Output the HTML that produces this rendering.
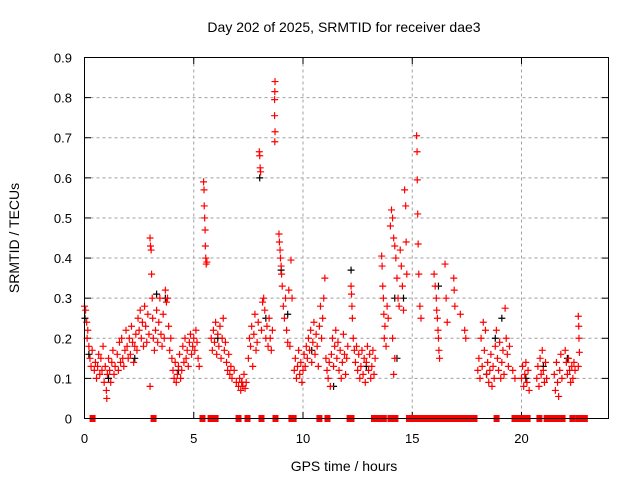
<!DOCTYPE html>
<html><head><meta charset="utf-8"><style>
html,body{margin:0;padding:0;background:#fff}
svg{display:block;font-family:"Liberation Sans",sans-serif}
</style></head><body>
<svg id="chart" width="640" height="480" viewBox="0 0 640 480" xmlns="http://www.w3.org/2000/svg">
<text x="344" y="32" font-size="14" text-anchor="middle" fill="#000">Day 202 of 2025, SRMTID for receiver dae3</text>
<text transform="translate(19,238) rotate(-90)" font-size="14" text-anchor="middle" fill="#000">SRMTID / TECUs</text>
<text x="344" y="471" font-size="14" text-anchor="middle" fill="#000">GPS time / hours</text>
<g id="grid"></g>
<g id="ticks"></g>
<g id="black"></g>
<g id="red"></g>
<rect x="84.5" y="57.5" width="524" height="361" fill="none" stroke="#000" stroke-width="1"/>
</svg>
<script>
const xTicks = [0,5,10,15,20];
const yTicks = [0,0.1,0.2,0.3,0.4,0.5,0.6,0.7,0.8,0.9];
const yTickLabels = ["0","0.1","0.2","0.3","0.4","0.5","0.6","0.7","0.8","0.9"];
const zeroTimes = [0.37,3.16,5.4,5.77,5.86,6.0,7.05,7.46,8.1,8.74,9.47,9.57,10.75,11.12,12.13,12.22,13.25,13.4,13.55,13.7,14.0,14.23,14.85,15.0,15.15,15.25,15.45,15.6,15.75,15.9,16.05,16.2,16.4,16.55,16.7,16.85,17.0,17.15,17.3,17.45,17.6,17.75,17.85,18.86,19.68,19.9,20.05,20.2,20.28,20.82,21.15,21.3,21.45,21.6,21.75,21.88,22.33,22.6,22.75,22.9];
const redSeries = [
[0.0,0.28],[0.05,0.27],[0.1,0.24],[0.12,0.2],[0.15,0.22],[0.2,0.18],[0.25,0.15],[0.3,0.13],[0.35,0.17],[0.45,0.12],
[0.5,0.14],[0.55,0.1],[0.6,0.13],[0.65,0.16],[0.7,0.11],[0.75,0.15],[0.8,0.12],[0.85,0.18],[0.9,0.09],[0.95,0.13],
[1.0,0.07],[1.02,0.05],[1.05,0.11],[1.1,0.15],[1.15,0.12],[1.2,0.09],[1.25,0.14],[1.3,0.17],[1.35,0.11],[1.4,0.13],
[1.5,0.16],[1.55,0.12],[1.6,0.19],[1.65,0.14],[1.7,0.2],[1.75,0.15],[1.8,0.13],[1.85,0.17],[1.9,0.22],[1.95,0.18],
[2.0,0.15],[2.05,0.2],[2.1,0.16],[2.15,0.23],[2.2,0.19],[2.25,0.14],[2.3,0.18],[2.35,0.21],[2.4,0.17],[2.45,0.25],
[2.5,0.22],[2.55,0.27],[2.6,0.2],[2.65,0.24],[2.7,0.18],[2.75,0.28],[2.8,0.23],[2.85,0.19],[2.9,0.26],[2.95,0.21],
[3.0,0.45],[3.02,0.43],[3.05,0.42],[3.07,0.36],[3.1,0.3],[3.12,0.25],[3.0,0.08],[3.15,0.2],[3.2,0.17],[3.25,0.22],
[3.3,0.27],[3.35,0.19],[3.4,0.24],[3.45,0.3],[3.5,0.21],[3.55,0.18],[3.6,0.26],[3.65,0.2],[3.7,0.32],[3.75,0.29],
[3.8,0.3],[3.85,0.23],[3.9,0.17],[3.95,0.2],[4.0,0.15],[4.05,0.12],[4.1,0.1],[4.15,0.14],[4.2,0.09],[4.25,0.11],
[4.3,0.13],[4.35,0.16],[4.4,0.1],[4.45,0.12],[4.5,0.18],[4.55,0.14],[4.6,0.2],[4.65,0.15],[4.7,0.17],[4.75,0.13],
[4.8,0.19],[4.85,0.21],[4.9,0.16],[4.95,0.18],[5.0,0.2],[5.05,0.17],[5.1,0.22],[5.15,0.19],[5.2,0.15],[5.25,0.13],
[5.45,0.59],[5.47,0.57],[5.48,0.53],[5.5,0.5],[5.52,0.47],[5.53,0.43],[5.55,0.4],[5.57,0.385],[5.6,0.39],
[5.8,0.2],[5.85,0.17],[5.9,0.22],[5.95,0.19],[6.0,0.24],[6.05,0.16],[6.1,0.21],[6.15,0.18],[6.2,0.23],[6.25,0.15],
[6.3,0.2],[6.35,0.25],[6.4,0.17],[6.45,0.19],[6.5,0.14],[6.55,0.12],[6.6,0.16],[6.65,0.11],[6.7,0.13],[6.75,0.1],
[6.85,0.12],[6.95,0.09],[7.05,0.08],[7.1,0.1],[7.15,0.07],[7.2,0.09],[7.25,0.08],[7.3,0.11],[7.35,0.075],[7.4,0.09],
[7.5,0.15],[7.55,0.2],[7.6,0.18],[7.65,0.23],[7.7,0.13],[7.75,0.21],[7.8,0.26],[7.85,0.17],[7.9,0.19],[7.95,0.24],
[8.0,0.665],[8.02,0.655],[8.04,0.625],[8.06,0.615],[8.1,0.22],[8.15,0.29],[8.2,0.3],[8.25,0.27],[8.3,0.2],[8.35,0.23],
[8.4,0.18],[8.45,0.25],[8.5,0.2],[8.55,0.17],[8.6,0.22],[8.72,0.84],[8.71,0.815],[8.7,0.795],[8.7,0.755],[8.72,0.715],[8.71,0.69],
[8.9,0.46],[8.92,0.44],[8.95,0.42],[8.97,0.4],[9.0,0.38],[9.02,0.36],[9.05,0.33],[9.1,0.28],[9.15,0.25],[9.2,0.3],
[9.25,0.22],[9.3,0.19],[9.35,0.32],[9.4,0.18],[9.45,0.395],[9.5,0.3],
[9.6,0.12],[9.65,0.15],[9.7,0.1],[9.75,0.13],[9.8,0.17],[9.85,0.11],[9.9,0.14],[9.95,0.09],[10.0,0.12],[10.05,0.16],
[10.1,0.13],[10.15,0.18],[10.2,0.15],[10.25,0.2],[10.3,0.17],[10.35,0.22],[10.4,0.14],[10.45,0.19],[10.5,0.24],[10.55,0.16],
[10.6,0.21],[10.65,0.18],[10.7,0.13],[10.75,0.23],[10.8,0.28],[10.85,0.2],[10.9,0.25],[10.95,0.3],[11.0,0.35],[11.05,0.15],
[11.1,0.12],[11.15,0.1],[11.2,0.14],[11.25,0.08],[11.3,0.16],[11.35,0.2],[11.4,0.13],[11.45,0.18],[11.5,0.22],[11.55,0.15],
[11.6,0.19],[11.65,0.12],[11.7,0.17],[11.75,0.1],[11.8,0.14],[11.85,0.21],[11.9,0.16],[11.95,0.11],[12.0,0.15],[12.05,0.18],
[12.2,0.33],[12.22,0.31],[12.24,0.28],[12.26,0.25],[12.3,0.2],[12.35,0.17],[12.4,0.14],[12.45,0.18],[12.5,0.12],[12.55,0.16],
[12.6,0.1],[12.65,0.13],[12.7,0.17],[12.75,0.11],[12.8,0.15],[12.85,0.09],[12.9,0.14],[12.95,0.18],[13.0,0.12],[13.05,0.16],
[13.1,0.1],[13.15,0.13],[13.2,0.17],[13.25,0.11],[13.3,0.15],
[13.6,0.405],[13.62,0.38],[13.65,0.33],[13.68,0.3],[13.7,0.26],[13.72,0.2],[13.75,0.23],[13.8,0.18],[13.85,0.28],[13.9,0.25],
[14.0,0.48],[14.05,0.52],[14.1,0.5],[14.15,0.45],[14.2,0.43],[14.25,0.4],[14.3,0.35],[14.35,0.3],[14.4,0.28],[14.1,0.2],
[14.2,0.15],[14.15,0.11],[14.45,0.42],[14.5,0.38],[14.55,0.33],[14.6,0.27],[14.65,0.57],[14.7,0.53],[14.72,0.44],[14.75,0.36],
[15.2,0.705],[15.22,0.665],[15.23,0.595],[15.25,0.51],[15.27,0.435],[15.3,0.36],[15.35,0.28],[15.4,0.25],
[16.0,0.36],[16.05,0.33],[16.1,0.3],[16.12,0.27],[16.15,0.25],[16.18,0.22],[16.2,0.2],[16.22,0.17],[16.25,0.15],
[16.5,0.385],[16.55,0.3],[16.6,0.24],[16.9,0.35],[16.92,0.32],[16.95,0.28],[17.2,0.26],[17.4,0.22],[17.45,0.2],
[18.0,0.12],[18.05,0.15],[18.1,0.1],[18.15,0.2],[18.2,0.13],[18.25,0.24],[18.3,0.17],[18.35,0.22],[18.4,0.11],[18.45,0.14],
[18.5,0.09],[18.55,0.12],[18.6,0.16],[18.65,0.08],[18.7,0.13],[18.75,0.1],[18.8,0.18],[18.85,0.22],[18.9,0.15],[18.95,0.12],
[19.0,0.19],[19.05,0.1],[19.1,0.14],[19.15,0.17],[19.2,0.11],[19.25,0.275],[19.3,0.2],[19.35,0.16],[19.4,0.13],[19.45,0.18],
[19.6,0.12],[19.7,0.1],[20.0,0.1],[20.05,0.13],[20.1,0.08],[20.15,0.11],[20.2,0.14],[20.25,0.09],[20.3,0.12],[20.35,0.07],
[20.7,0.1],[20.75,0.13],[20.8,0.08],[20.85,0.15],[20.9,0.11],[20.95,0.17],[21.0,0.12],[21.05,0.09],[21.1,0.14],[21.15,0.1],
[21.5,0.11],[21.55,0.07],[21.6,0.14],[21.65,0.09],[21.7,0.055],[21.75,0.12],[21.8,0.16],[21.85,0.1],
[22.0,0.17],[22.05,0.14],[22.1,0.11],[22.15,0.15],[22.2,0.12],[22.25,0.09],[22.3,0.13],[22.35,0.1],[22.4,0.14],[22.45,0.12],
[22.6,0.255],[22.62,0.23],[22.63,0.2],[22.65,0.165],[22.6,0.13]
];
const blackSeries = [
[0.02,0.25],[0.2,0.16],[1.1,0.1],[2.3,0.15],[3.3,0.31],[3.7,0.3],[4.3,0.12],[6.1,0.2],[7.2,0.09],[8.02,0.6],
[8.3,0.25],[9.0,0.37],[9.3,0.26],[10.4,0.17],[11.4,0.08],[12.2,0.37],[12.9,0.13],[14.2,0.3],[14.3,0.15],[14.6,0.3],
[16.2,0.33],[18.4,0.11],[18.8,0.2],[19.1,0.25],[20.2,0.1],[21.0,0.13],[22.1,0.15]
];
const X0=84.5, XS=21.85, Y0=418.5, YS=401.1;
function sx(t){return X0+t*XS;}
function sy(v){return Y0-v*YS;}
const NS="http://www.w3.org/2000/svg";
function mk(tag,attrs,parent){const e=document.createElementNS(NS,tag);for(const k in attrs)e.setAttribute(k,attrs[k]);parent.appendChild(e);return e;}
const grid=document.getElementById('grid'), ticks=document.getElementById('ticks');
xTicks.forEach(t=>{
  const x=sx(t);
  if(t>0){const l=mk('line',{x1:x,y1:57.5,x2:x,y2:418.5,stroke:'#a0a0a0','stroke-dasharray':'3,3'},grid);
  
  }
  mk('line',{x1:x,y1:418.5,x2:x,y2:412,stroke:'#000'},ticks);
  mk('line',{x1:x,y1:57.5,x2:x,y2:64,stroke:'#000'},ticks);
  const tx=mk('text',{x:x,y:443,'font-size':13,'text-anchor':'middle',fill:'#000'},ticks);
  tx.textContent=String(t);
  
  
});
yTicks.forEach((v,i)=>{
  const y=sy(v);
  if(v>0&&v<0.9){const l=mk('line',{x1:84.5,y1:y,x2:608.5,y2:y,stroke:'#a0a0a0','stroke-dasharray':'3,3'},grid);
  
  }
  mk('line',{x1:84.5,y1:y,x2:91,y2:y,stroke:'#000'},ticks);
  mk('line',{x1:608.5,y1:y,x2:602,y2:y,stroke:'#000'},ticks);
  const tx=mk('text',{x:72,y:y+5,'font-size':13,'text-anchor':'end',fill:'#000'},ticks);
  tx.textContent=yTickLabels[i];
  
  
});
function cross(g,t,v,col,name){
  const x=sx(t), y=sy(v);
  const p=mk('path',{d:`M${x-3.5},${y}H${x+3.5}M${x},${y-3.5}V${y+3.5}`,stroke:col,'stroke-width':1.2,fill:'none'},g);
  
  
}
const bg=document.getElementById('black'), rg=document.getElementById('red');
blackSeries.forEach(d=>cross(bg,d[0],d[1],'#000','black-point'));
redSeries.forEach(d=>cross(rg,d[0],d[1],'#ff0000','red-point'));
zeroTimes.forEach(t=>{
  const x=sx(t);
  const r=mk('rect',{x:x-3,y:Y0-3.5,width:6,height:7,fill:'#ff0000'},rg);
  
  
});
</script>
</body></html>
